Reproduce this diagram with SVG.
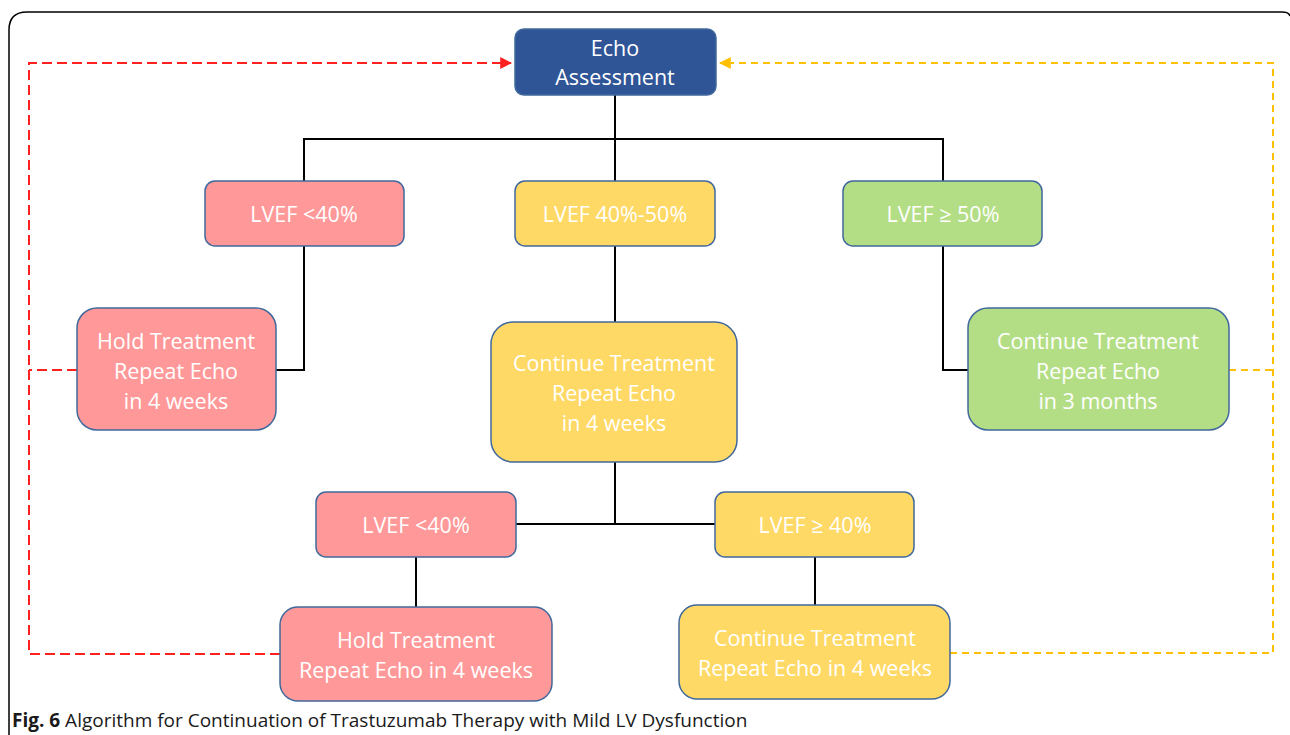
<svg xmlns="http://www.w3.org/2000/svg" width="1290" height="735" viewBox="0 0 1290 735">
<style>
.box{stroke:#41689C;stroke-width:1.5}
.red{fill:#FF9999}
.yel{fill:#FFD966}
.grn{fill:#B4DE86}
.blue{fill:#2F5597}
.t{font-family:"Open Sans","Liberation Sans",sans-serif;font-size:21.5px;fill:#ffffff;text-anchor:middle}
.conn{stroke:#000;stroke-width:2;fill:none}
.dr{stroke:#FF2020;stroke-width:2;fill:none;stroke-dasharray:10,5}
.dy{stroke:#FFC000;stroke-width:2;fill:none;stroke-dasharray:7,5}
.cap{font-family:"Open Sans","Liberation Sans",sans-serif;font-size:19px;fill:#1a1a1a}
</style>
<defs>
<marker id="ar" viewBox="0 0 10 10" refX="9" refY="5" markerWidth="6" markerHeight="6" orient="auto"><path d="M0,0 L10,5 L0,10 z" fill="#FF2020"/></marker>
<marker id="ay" viewBox="0 0 10 10" refX="9" refY="5" markerWidth="6" markerHeight="6" orient="auto"><path d="M0,0 L10,5 L0,10 z" fill="#FFC000"/></marker>
</defs>
<rect x="0" y="0" width="1290" height="735" fill="#fff"/>
<path d="M9,760 V30 Q9,12 27,12 H1282 Q1289,12 1290,16" fill="none" stroke="#000" stroke-width="1.5"/>
<g id="connectors">
<path class="conn" d="M615,95 V139 M304,181 V139 H943 V181 M615,139 V181"/>
<path class="conn" d="M304,246 V370 H276"/>
<path class="conn" d="M615,246 V322"/>
<path class="conn" d="M943,246 V370 H968"/>
<path class="conn" d="M615,462 V524 M516,524 H715"/>
<path class="conn" d="M416,557 V607"/>
<path class="conn" d="M815,557 V605"/>
<path class="dr" d="M280,654 H29 V63 H511" marker-end="url(#ar)"/>
<path class="dr" d="M77,370 H29"/>
<path class="dy" d="M950,653 H1273 V63 H720" marker-end="url(#ay)"/>
<path class="dy" d="M1229,370 H1273"/>
</g>
<g id="echo"><rect class="box blue" x="515" y="29" width="201" height="66" rx="9"/><text class="t" x="615" y="56">Echo</text><text class="t" x="615" y="85">Assessment</text></g>
<g id="lvef-lt40"><rect class="box red" x="205" y="181" width="199" height="65" rx="10"/><text class="t" x="304" y="222">LVEF &lt;40%</text></g>
<g id="lvef-40-50"><rect class="box yel" x="515" y="181" width="200" height="65" rx="10"/><text class="t" x="615" y="222">LVEF 40%-50%</text></g>
<g id="lvef-ge50"><rect class="box grn" x="843" y="181" width="199" height="65" rx="10"/><text class="t" x="943" y="222">LVEF ≥ 50%</text></g>
<g id="hold1"><rect class="box red" x="77" y="308" width="199" height="122" rx="20"/><text class="t" x="176" y="349">Hold Treatment</text><text class="t" x="176" y="379">Repeat Echo</text><text class="t" x="176" y="409">in 4 weeks</text></g>
<g id="cont1"><rect class="box yel" x="491" y="322" width="246" height="140" rx="22"/><text class="t" x="614" y="371">Continue Treatment</text><text class="t" x="614" y="401">Repeat Echo</text><text class="t" x="614" y="431">in 4 weeks</text></g>
<g id="cont-green"><rect class="box grn" x="968" y="308" width="261" height="122" rx="20"/><text class="t" x="1098" y="349">Continue Treatment</text><text class="t" x="1098" y="379">Repeat Echo</text><text class="t" x="1098" y="409">in 3 months</text></g>
<g id="lvef-lt40b"><rect class="box red" x="316" y="492" width="200" height="65" rx="10"/><text class="t" x="416" y="533">LVEF &lt;40%</text></g>
<g id="lvef-ge40"><rect class="box yel" x="715" y="492" width="199" height="65" rx="10"/><text class="t" x="815" y="533">LVEF ≥ 40%</text></g>
<g id="hold2"><rect class="box red" x="280" y="607" width="272" height="94" rx="18"/><text class="t" x="416" y="648">Hold Treatment</text><text class="t" x="416" y="678">Repeat Echo in 4 weeks</text></g>
<g id="cont2"><rect class="box yel" x="679" y="605" width="271" height="94" rx="18"/><text class="t" x="815" y="646">Continue Treatment</text><text class="t" x="815" y="676">Repeat Echo in 4 weeks</text></g>
<text class="cap" x="12" y="727"><tspan font-weight="bold">Fig. 6</tspan> Algorithm for Continuation of Trastuzumab Therapy with Mild LV Dysfunction</text>
</svg>
